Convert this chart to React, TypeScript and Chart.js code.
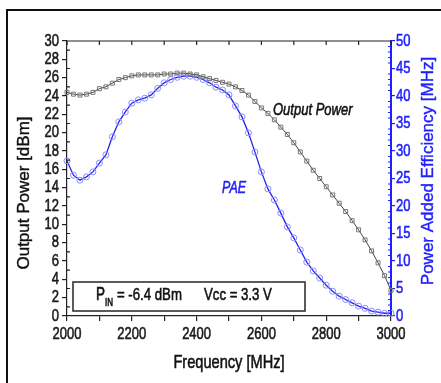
import { useEffect, useRef } from "react";
import { Chart, registerables } from "chart.js";

Chart.register(...registerables);

const frequencies = [
  2000, 2020, 2040, 2060, 2080, 2100, 2120, 2140, 2160, 2180,
  2200, 2220, 2240, 2260, 2280, 2300, 2320, 2340, 2360, 2380,
  2400, 2420, 2440, 2460, 2480, 2500, 2520, 2540, 2560, 2580,
  2600, 2620, 2640, 2660, 2680, 2700, 2720, 2740, 2760, 2780,
  2800, 2820, 2840, 2860, 2880, 2900, 2920, 2940, 2960, 2980, 3000,
];

const outputPower = [
  24.4, 24.2, 24.1, 24.2, 24.4, 24.8, 25.0, 25.4, 25.8, 26.0,
  26.2, 26.3, 26.3, 26.3, 26.3, 26.4, 26.4, 26.5, 26.5, 26.4,
  26.3, 26.1, 25.9, 25.7, 25.5, 25.3, 25.0, 24.6, 24.1, 23.4,
  22.7, 22.1, 21.4, 20.6, 19.8, 18.9, 17.9, 16.9, 15.9, 15.0,
  14.1, 13.2, 12.3, 11.4, 10.4, 9.4, 8.3, 7.1, 5.8, 4.4, 2.8,
];

const pae = [
  28.2, 25.6, 24.7, 25.3, 26.2, 27.8, 29.3, 32.6, 35.3, 37.1,
  38.7, 39.3, 39.6, 40.2, 41.4, 42.4, 43.0, 43.4, 43.6, 43.6,
  43.4, 43.0, 42.4, 41.6, 41.1, 40.2, 38.2, 36.2, 33.3, 29.8,
  26.2, 23.1, 21.1, 18.7, 16.2, 14.2, 12.0, 9.8, 8.2, 6.9,
  5.6, 4.5, 3.6, 3.0, 2.4, 1.8, 1.4, 0.9, 0.7, 0.5, 0.5,
];

const xTickLabels = ["2000", "2200", "2400", "2600", "2800", "3000"];
const leftTickLabels = ["0", "2", "4", "6", "8", "10", "12", "14", "16", "18", "20", "22", "24", "26", "28", "30"];
const rightTickLabels = ["0", "5", "10", "15", "20", "25", "30", "35", "40", "45", "50"];

const REG = '"Liberation Sans", Arial, sans-serif';
const BLUE = "#1f1fff";
const STRETCH = 1.3;

function stretchedText(ctx: any, text: string, x: number, y: number, font: string, align: string, color: string) {
  ctx.save();
  ctx.font = font;
  ctx.fillStyle = color;
  ctx.strokeStyle = color;
  ctx.lineWidth = 0.45;
  ctx.textAlign = align;
  ctx.textBaseline = "middle";
  ctx.translate(x, y);
  ctx.scale(1, STRETCH);
  ctx.fillText(text, 0, 0);
  ctx.strokeText(text, 0, 0);
  ctx.restore();
}

const decorPlugin = {
  id: "decor",
  afterDatasetsDraw(chart: any) {
    const ctx = chart.ctx;
    const { left, right, top } = chart.chartArea;
    const xs = chart.scales.x;
    const yl = chart.scales.y;
    const yr = chart.scales.y1;
    ctx.save();
    // outer frame
    ctx.strokeStyle = "#111";
    ctx.lineWidth = 2;
    ctx.beginPath();
    ctx.moveTo(7, 383);
    ctx.lineTo(7, 10);
    ctx.lineTo(441, 10);
    ctx.stroke();
    // top border with inward ticks
    ctx.lineWidth = 1.2;
    ctx.strokeStyle = "#222";
    ctx.beginPath();
    ctx.moveTo(left, top);
    ctx.lineTo(right, top);
    for (let f = 2000; f <= 3000; f += 100) {
      const x = xs.getPixelForValue(f);
      ctx.moveTo(x, top);
      ctx.lineTo(x, top + 4);
    }
    // left minor inward ticks
    for (let v = 1; v < 30; v += 2) {
      const y = yl.getPixelForValue(v);
      ctx.moveTo(left, y);
      ctx.lineTo(left + 3, y);
    }
    ctx.stroke();
    // right minor ticks
    ctx.strokeStyle = BLUE;
    ctx.lineWidth = 1;
    ctx.beginPath();
    for (let v = 1; v < 50; v += 1) {
      if (v % 5 === 0) continue;
      const y = yr.getPixelForValue(v);
      ctx.moveTo(right - 3, y);
      ctx.lineTo(right, y);
    }
    ctx.stroke();

    // tick labels
    const tickFont = `13px ${REG}`;
    xTickLabels.forEach((l) => {
      stretchedText(ctx, l, xs.getPixelForValue(Number(l)), 334, tickFont, "center", "#1a1a1a");
    });
    leftTickLabels.forEach((l) => {
      stretchedText(ctx, l, left - 8, yl.getPixelForValue(Number(l)), tickFont, "right", "#1a1a1a");
    });
    rightTickLabels.forEach((l) => {
      stretchedText(ctx, l, right + 5, yr.getPixelForValue(Number(l)), tickFont, "left", BLUE);
    });

    // info box
    ctx.fillStyle = "#fff";
    ctx.fillRect(73, 282, 232, 29);
    ctx.strokeStyle = "#333";
    ctx.lineWidth = 1.6;
    ctx.strokeRect(73, 282, 232, 29);
    stretchedText(ctx, "P", 96, 295, `13.5px ${REG}`, "left", "#111");
    stretchedText(ctx, "IN", 105, 303, `8px ${REG}`, "left", "#111");
    stretchedText(ctx, "= -6.4 dBm", 117, 295, `13.2px ${REG}`, "left", "#111");
    stretchedText(ctx, "Vcc = 3.3 V", 204, 295, `13.2px ${REG}`, "left", "#111");

    // annotations
    stretchedText(ctx, "Output Power", 273, 110, `italic 13px ${REG}`, "left", "#111");
    stretchedText(ctx, "PAE", 222, 188, `italic 12.5px ${REG}`, "left", BLUE);

    // axis titles
    stretchedText(ctx, "Frequency [MHz]", (left + right) / 2, 363, `14.6px ${REG}`, "center", "#111");
    ctx.textAlign = "center";
    ctx.textBaseline = "middle";
    ctx.font = `17px ${REG}`;
    ctx.lineWidth = 0.4;
    ctx.save();
    ctx.fillStyle = "#111";
    ctx.strokeStyle = "#111";
    ctx.translate(24, 193);
    ctx.rotate(-Math.PI / 2);
    ctx.fillText("Output Power [dBm]", 0, 0);
    ctx.strokeText("Output Power [dBm]", 0, 0);
    ctx.restore();
    ctx.save();
    ctx.fillStyle = BLUE;
    ctx.strokeStyle = BLUE;
    ctx.translate(428, 171);
    ctx.rotate(-Math.PI / 2);
    ctx.fillText("Power Added Efficiency [MHz]", 0, 0);
    ctx.strokeText("Power Added Efficiency [MHz]", 0, 0);
    ctx.restore();
    ctx.restore();
  },
};

export default function App() {
  const ref = useRef<HTMLCanvasElement>(null);
  useEffect(() => {
    if (!ref.current) return;
    const hidden = "rgba(0,0,0,0)";
    const chart = new Chart(ref.current, {
      type: "line",
      data: {
        datasets: [
          {
            label: "Output Power",
            data: frequencies.map((f, i) => ({ x: f, y: outputPower[i] })),
            yAxisID: "y",
            borderColor: "#444",
            borderWidth: 1,
            pointStyle: "rect",
            pointRadius: 2.8,
            pointBorderColor: "#777",
            pointBackgroundColor: "rgba(255,255,255,0)",
            pointBorderWidth: 1,
            clip: 6,
          },
          {
            label: "PAE",
            data: frequencies.map((f, i) => ({ x: f, y: pae[i] })),
            yAxisID: "y1",
            borderColor: "#2222ee",
            borderWidth: 1.3,
            pointStyle: "circle",
            pointRadius: 3,
            pointBorderColor: "#8a8aff",
            pointBackgroundColor: "rgba(255,255,255,0)",
            pointBorderWidth: 1,
            clip: 6,
          },
        ],
      },
      options: {
        animation: false,
        responsive: false,
        devicePixelRatio: 1,
        layout: { padding: { top: 41, left: 0, right: 0, bottom: 0 } },
        plugins: { legend: { display: false }, tooltip: { enabled: false } },
        scales: {
          x: {
            type: "linear",
            min: 2000,
            max: 3000,
            afterFit: (s: any) => { s.height = 67; },
            border: { display: true, color: "#222", width: 1.2 },
            grid: { drawOnChartArea: false, tickLength: 5, color: "#222", lineWidth: 1.2 },
            ticks: { stepSize: 100, autoSkip: false, maxRotation: 0, color: hidden, font: { size: 10 } },
          },
          y: {
            position: "left",
            min: 0,
            max: 30,
            afterFit: (s: any) => { s.width = 67; },
            border: { display: true, color: "#222", width: 1.2 },
            grid: { drawOnChartArea: false, tickLength: 5, color: "#222", lineWidth: 1.2 },
            ticks: { stepSize: 2, autoSkip: false, color: hidden, font: { size: 10 } },
          },
          y1: {
            position: "right",
            min: 0,
            max: 50,
            afterFit: (s: any) => { s.width = 50; },
            border: { display: true, color: BLUE, width: 2 },
            grid: { drawOnChartArea: false, tickLength: 4, color: BLUE, lineWidth: 1.2 },
            ticks: { stepSize: 5, autoSkip: false, color: hidden, font: { size: 10 } },
          },
        },
      },
      plugins: [decorPlugin],
    } as any);
    return () => chart.destroy();
  }, []);
  return (
    <div style={{ position: "absolute", left: 0, top: 0, width: 441, height: 383, background: "#fff" }}>
      <canvas ref={ref} width={441} height={383} />
    </div>
  );
}
